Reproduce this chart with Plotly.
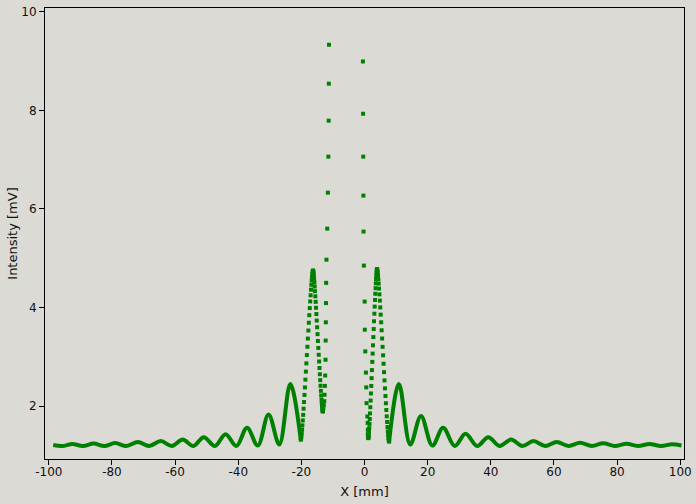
import plotly.graph_objects as go

# ---- data (X [mm], Intensity [mV]) ----
# smooth outer fringes: extrema
left_tail_x = [-98.6, -95.8, -92.5, -89.2, -85.8, -82.4, -79.0, -75.4, -71.8, -68.2,
               -64.5, -61.0, -57.6, -54.2, -50.9, -47.4, -44.0, -40.6, -37.2, -33.8,
               -30.4, -27.0, -23.5, -20.2]
left_tail_y = [1.21, 1.19, 1.23, 1.19, 1.24, 1.19, 1.25, 1.19, 1.27, 1.19,
               1.29, 1.19, 1.32, 1.19, 1.37, 1.19, 1.43, 1.19, 1.56, 1.20,
               1.83, 1.22, 2.45, 1.32]

right_tail_x = [7.8, 10.9, 14.5, 17.9, 21.5, 24.9, 28.6, 32.0, 35.7, 39.2, 42.8,
                46.4, 50.0, 53.5, 57.2, 60.9, 64.6, 68.3, 72.0, 75.6, 79.3, 83.0,
                86.6, 90.3, 93.9, 97.4, 100.4]
right_tail_y = [1.28, 2.45, 1.22, 1.80, 1.20, 1.56, 1.19, 1.44, 1.19, 1.37, 1.19,
                1.32, 1.19, 1.29, 1.19, 1.27, 1.19, 1.255, 1.19, 1.245, 1.19, 1.235,
                1.19, 1.23, 1.19, 1.225, 1.20]

# first side lobe, left (sampled points)
left_lobe_x = [-20.20, -20.13, -20.06, -19.98, -19.88, -19.78, -19.67, -19.55, -19.43, -19.30,
               -19.16, -19.01, -18.87, -18.72, -18.56, -18.41, -18.25, -18.09, -17.94, -17.78,
               -17.63, -17.49, -17.34, -17.20, -17.07, -16.95, -16.83, -16.72, -16.62, -16.52,
               -16.44, -16.37, -16.30,
               -16.25, -16.19, -16.12, -16.05, -15.97, -15.88, -15.79, -15.69, -15.58, -15.47,
               -15.36, -15.24, -15.12, -15.00, -14.87, -14.75, -14.63, -14.50, -14.38, -14.26,
               -14.14, -14.03, -13.92, -13.81, -13.72, -13.62, -13.53, -13.45, -13.38, -13.31,
               -13.25, -13.20]
left_lobe_y = [1.320, 1.328, 1.353, 1.394, 1.451, 1.523, 1.609, 1.709, 1.822, 1.947,
               2.082, 2.227, 2.379, 2.537, 2.700, 2.867, 3.035, 3.203, 3.370, 3.533,
               3.691, 3.844, 3.988, 4.123, 4.248, 4.361, 4.461, 4.548, 4.620, 4.676,
               4.717, 4.742, 4.750,
               4.743, 4.723, 4.688, 4.641, 4.581, 4.509, 4.425, 4.331, 4.227, 4.115,
               3.994, 3.867, 3.735, 3.599, 3.460, 3.320, 3.180, 3.041, 2.905, 2.773,
               2.646, 2.526, 2.413, 2.309, 2.215, 2.131, 2.059, 1.999, 1.952, 1.918,
               1.897, 1.890]

# steep edges of the (off-scale) central maximum
left_edge_x = [-13.05, -12.9, -12.75, -12.65, -12.55, -12.45, -12.35, -12.3, -12.25,
               -12.2, -12.15, -12.05, -11.8, -11.6, -11.45, -11.35, -11.3, -11.25]
left_edge_y = [1.95, 2.02, 2.10, 2.23, 2.41, 2.62, 2.94, 3.33, 3.70,
               4.09, 4.50, 4.97, 5.60, 6.33, 7.06, 7.79, 8.54, 9.33]

right_edge_x = [-0.5, -0.45, -0.4, -0.35, -0.3, -0.2, 0.05, 0.1, 0.25,
                0.45, 0.55, 0.65, 0.9, 1.0, 1.05, 1.05, 1.1]
right_edge_y = [8.99, 7.93, 7.06, 6.27, 5.54, 4.85, 4.12, 3.55, 3.11,
                2.68, 2.38, 2.06, 1.79, 1.66, 1.52, 1.43, 1.37]

# first side lobe, right (sampled points)
right_lobe_x = [1.20, 1.25, 1.30, 1.36, 1.43, 1.50, 1.58, 1.66, 1.75, 1.84,
                1.94, 2.04, 2.15, 2.25, 2.36, 2.47, 2.59, 2.70, 2.81, 2.92,
                3.02, 3.13, 3.23, 3.33, 3.42, 3.51, 3.59, 3.67, 3.74, 3.81,
                3.87, 3.92, 3.97,
                4.03, 4.11, 4.19, 4.28, 4.38, 4.49, 4.61, 4.73, 4.86, 4.99,
                5.13, 5.28, 5.43, 5.58, 5.73, 5.89, 6.04, 6.19, 6.34, 6.49,
                6.64, 6.78, 6.91, 7.04, 7.16, 7.28, 7.39, 7.49, 7.58, 7.66,
                7.74, 7.80]
right_lobe_y = [1.350, 1.358, 1.383, 1.424, 1.481, 1.553, 1.639, 1.739, 1.852, 1.977,
                2.112, 2.257, 2.409, 2.567, 2.730, 2.897, 3.065, 3.233, 3.400, 3.563,
                3.721, 3.874, 4.018, 4.153, 4.278, 4.391, 4.491, 4.578, 4.650, 4.706,
                4.747, 4.772, 4.780,
                4.772, 4.746, 4.705, 4.647, 4.573, 4.485, 4.383, 4.267, 4.140, 4.002,
                3.855, 3.700, 3.538, 3.371, 3.202, 3.030, 2.859, 2.689, 2.522, 2.360,
                2.205, 2.058, 1.920, 1.793, 1.677, 1.575, 1.487, 1.413, 1.355, 1.314,
                1.288, 1.280]

x_tickvals = [-100, -80, -60, -40, -20, 0, 20, 40, 60, 80, 100]
x_ticktext = ["-100", "-80", "-60", "-40", "-20", "0", "20", "40", "60", "80", "100"]
y_tickvals = [2, 4, 6, 8, 10]

GREEN = "#008000"
BG = "#dcdad5"

fig = go.Figure()

for tx, ty in [(left_tail_x, left_tail_y), (right_tail_x, right_tail_y)]:
    fig.add_trace(go.Scatter(
        x=tx, y=ty, mode="lines",
        line=dict(color=GREEN, width=4, shape="spline", smoothing=1.0),
        hoverinfo="skip"))

pts_x = left_lobe_x + left_edge_x + right_edge_x + right_lobe_x
pts_y = left_lobe_y + left_edge_y + right_edge_y + right_lobe_y
fig.add_trace(go.Scatter(
    x=pts_x, y=pts_y, mode="markers",
    marker=dict(symbol="square", size=4, color=GREEN, line=dict(width=0))))

axis_common = dict(
    showline=True, linecolor="black", linewidth=1, mirror=True,
    ticks="outside", ticklen=5, tickcolor="black", tickwidth=1,
    showgrid=False, zeroline=False, automargin=False,
    tickfont=dict(family="DejaVu Sans", size=12, color="#111111"),
)

fig.update_layout(
    width=696, height=504,
    margin=dict(l=45, r=12, t=8, b=45),
    paper_bgcolor=BG, plot_bgcolor=BG,
    showlegend=False,
    font=dict(family="DejaVu Sans", size=12, color="#111111"),
    xaxis=dict(range=[-101.2, 101.2], tickvals=x_tickvals, ticktext=x_ticktext,
               ticklabelstandoff=-3,
               title=dict(text="X [mm]", font=dict(size=13), standoff=8),
               **axis_common),
    yaxis=dict(range=[0.927, 10.075], tickvals=y_tickvals,
               title=dict(text="Intensity [mV]", font=dict(size=13), standoff=0),
               **axis_common),
)

fig.write_html(
    "out.html",
    config={"displayModeBar": False},
    post_script="document.body.style.margin='0';"
                "document.body.style.background='#dcdad5';"
                "document.documentElement.style.background='#dcdad5';",
)
